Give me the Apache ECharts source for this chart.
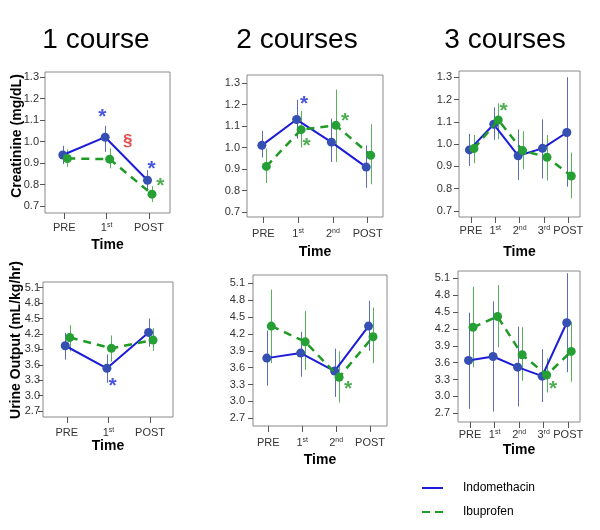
<!DOCTYPE html>
<html><head><meta charset="utf-8">
<script src="https://cdn.jsdelivr.net/npm/echarts@6/dist/echarts.min.js"></script>
<style>html,body{margin:0;padding:0;background:#fff}#c{width:600px;height:530px}</style>
</head><body><div id="c"></div>
<script>
// ---------- data ----------
const panelTitles = ['1 course', '2 courses', '3 courses'];
const yTitles = ['Creatinine (mg/dL)', 'Urine Output (mL/kg/hr)'];
const seriesNames = ['Indomethacin', 'Ibuprofen'];
const xName = 'Time';
const cats1 = ['PRE', '1st', 'POST'];
const cats2 = ['PRE', '1st', '2nd', 'POST'];
const cats3 = ['PRE', '1st', '2nd', '3rd', 'POST'];
const creatTicks = ['0.7', '0.8', '0.9', '1.0', '1.1', '1.2', '1.3'];
const urineTicks = ['2.7', '3.0', '3.3', '3.6', '3.9', '4.2', '4.5', '4.8', '5.1'];

// Creatinine – 1 course
const cr1Indo = [0.937, 1.020, 0.820];
const cr1IndoLo = [0.895, 0.952, 0.770];
const cr1IndoHi = [0.980, 1.073, 0.867];
const cr1Ibu = [0.921, 0.918, 0.755];
const cr1IbuLo = [0.882, 0.875, 0.719];
const cr1IbuHi = [0.963, 0.968, 0.792];
// Creatinine – 2 courses
const cr2Indo = [1.010, 1.130, 1.025, 0.909];
const cr2IndoLo = [0.953, 1.041, 0.933, 0.813];
const cr2IndoHi = [1.077, 1.222, 1.134, 1.010];
const cr2Ibu = [0.912, 1.083, 1.103, 0.964];
const cr2IbuLo = [0.835, 1.000, 0.933, 0.829];
const cr2IbuHi = [0.995, 1.170, 1.269, 1.108];
// Creatinine – 3 courses
const cr3Indo = [0.974, 1.089, 0.948, 0.981, 1.052];
const cr3IndoLo = [0.902, 1.019, 0.839, 0.846, 0.809];
const cr3IndoHi = [1.046, 1.165, 1.066, 1.111, 1.300];
const cr3Ibu = [0.980, 1.108, 0.971, 0.941, 0.857];
const cr3IbuLo = [0.914, 1.022, 0.887, 0.836, 0.757];
const cr3IbuHi = [1.041, 1.183, 1.058, 1.041, 0.962];
// Urine output – 1 course
const ur1Indo = [3.97, 3.53, 4.23];
const ur1IndoLo = [3.70, 3.25, 3.95];
const ur1IndoHi = [4.22, 3.80, 4.50];
const ur1Ibu = [4.13, 3.92, 4.08];
const ur1IbuLo = [3.86, 3.66, 3.87];
const ur1IbuHi = [4.37, 4.17, 4.31];
// Urine output – 2 courses
const ur2Indo = [3.77, 3.86, 3.54, 4.34];
const ur2IndoLo = [3.28, 3.44, 3.08, 3.90];
const ur2IndoHi = [4.26, 4.24, 3.94, 4.79];
const ur2Ibu = [4.34, 4.06, 3.43, 4.15];
const ur2IbuLo = [3.68, 3.56, 2.98, 3.68];
const ur2IbuHi = [4.99, 4.61, 3.89, 4.67];
// Urine output – 3 courses
const ur3Indo = [3.64, 3.71, 3.52, 3.36, 4.31];
const ur3IndoLo = [2.78, 2.73, 2.82, 2.90, 3.43];
const ur3IndoHi = [4.49, 4.69, 4.24, 3.84, 5.19];
const ur3Ibu = [4.23, 4.42, 3.74, 3.38, 3.80];
const ur3IbuLo = [3.52, 3.87, 3.28, 3.07, 3.26];
const ur3IbuHi = [4.95, 4.98, 4.23, 3.68, 4.33];

// significance marks: [x (category index), y value, symbol, group]
const cr1Notes = [[0.9, 1.13, '*', 'indo'], [1.5, 1.0, '§', 'sig'], [2.06, 0.89, '*', 'indo'], [2.27, 0.81, '*', 'ibu']];
const cr2Notes = [[1.17, 1.22, '*', 'indo'], [1.24, 1.026, '*', 'ibu'], [2.35, 1.142, '*', 'ibu']];
const cr3Notes = [[1.34, 1.165, '*', 'ibu']];
const ur1Notes = [[1.1, 3.26, '*', 'indo']];
const ur2Notes = [[2.35, 3.28, '*', 'ibu']];
const ur3Notes = [[3.38, 3.20, '*', 'ibu']];

// ---------- layout / style ----------
const C = {
  indoLine: '#1c1cd8', indoDot: '#3550b2', indoErr: '#5d6cb8',
  ibuLine: '#1f9a24', ibuDot: '#26a035', ibuErr: '#58b25a',
  sig: '#e0201c', frame: '#8a8a8a', tick: '#555', label: '#333'
};
const FONT = 'Liberation Sans, Arial, sans-serif';

const panels = [
  { cats: cats1, ticks: creatTicks, indo: [cr1Indo, cr1IndoLo, cr1IndoHi], ibu: [cr1Ibu, cr1IbuLo, cr1IbuHi], notes: cr1Notes,
    box: { left: 45, top: 72, width: 125, height: 141 }, xr: [-0.456, 2.496], yr: [0.6674, 1.3233], lm: 9, ng: 25, ym: 6 },
  { cats: cats2, ticks: creatTicks, indo: [cr2Indo, cr2IndoLo, cr2IndoHi], ibu: [cr2Ibu, cr2IbuLo, cr2IbuHi], notes: cr2Notes,
    box: { left: 247, top: 75, width: 136, height: 142 }, xr: [-0.47, 3.44], yr: [0.677, 1.337], lm: 11, ng: 28, ym: 7 },
  { cats: cats3, ticks: creatTicks, indo: [cr3Indo, cr3IndoLo, cr3IndoHi], ibu: [cr3Ibu, cr3IbuLo, cr3IbuHi], notes: cr3Notes,
    box: { left: 459, top: 71, width: 121, height: 146 }, xr: [-0.49, 4.48], yr: [0.673, 1.328], lm: 8, ng: 28, ym: 7 },
  { cats: cats1, ticks: urineTicks, indo: [ur1Indo, ur1IndoLo, ur1IndoHi], ibu: [ur1Ibu, ur1IbuLo, ur1IbuHi], notes: ur1Notes,
    box: { left: 43, top: 282, width: 130, height: 135 }, xr: [-0.57, 2.55], yr: [2.583, 5.211], lm: 10, ng: 19, ym: 3 },
  { cats: cats2, ticks: urineTicks, indo: [ur2Indo, ur2IndoLo, ur2IndoHi], ibu: [ur2Ibu, ur2IbuLo, ur2IbuHi], notes: ur2Notes,
    box: { left: 253, top: 275, width: 134, height: 151 }, xr: [-0.45, 3.5], yr: [2.563, 5.248], lm: 11, ng: 27, ym: 8 },
  { cats: cats3, ticks: urineTicks, indo: [ur3Indo, ur3IndoLo, ur3IndoHi], ibu: [ur3Ibu, ur3IbuLo, ur3IbuHi], notes: ur3Notes,
    box: { left: 458, top: 271, width: 122, height: 151 }, xr: [-0.49, 4.48], yr: [2.545, 5.23], lm: 7, ng: 21, ym: 8 }
];

function catLabel(s) {
  const m = s.match(/^(\d+)(st|nd|rd|th)$/);
  return m ? '{n|' + m[1] + '}{s|' + m[2] + '}' : '{n|' + s + '}';
}

const grids = [], xAxes = [], yAxes = [], series = [];

// legend-only series (they alone carry the legend names)
series.push({ type: 'line', name: seriesNames[0], xAxisIndex: 0, yAxisIndex: 0, data: [], symbol: 'none',
  lineStyle: { color: C.indoLine, width: 2 }, itemStyle: { color: C.indoLine } });
series.push({ type: 'line', name: seriesNames[1], xAxisIndex: 0, yAxisIndex: 0, data: [], symbol: 'none',
  lineStyle: { color: C.ibuLine, width: 2.5, type: [6, 5] }, itemStyle: { color: C.ibuLine } });

function errSeries(i, xs, lo, hi, color) {
  return {
    type: 'custom', name: 'err' + i, xAxisIndex: i, yAxisIndex: i, silent: true, z: 1,
    data: xs.map((x, k) => [x, lo[k], hi[k]]),
    encode: { x: 0, y: [1, 2] },
    renderItem: function (params, api) {
      const a = api.coord([api.value(0), api.value(1)]);
      const b = api.coord([api.value(0), api.value(2)]);
      return { type: 'line', shape: { x1: Math.round(a[0]) + 0.5, y1: a[1], x2: Math.round(b[0]) + 0.5, y2: b[1] },
        style: { stroke: color, lineWidth: 1 } };
    }
  };
}

panels.forEach((p, i) => {
  grids.push(Object.assign({ show: true, borderColor: C.frame, borderWidth: 1, backgroundColor: 'transparent',
    containLabel: false, outerBoundsMode: 'none' }, p.box));
  const idx = p.cats.map((_, k) => k);
  const tv = p.ticks.map(Number);
  xAxes.push({
    gridIndex: i, type: 'value', min: p.xr[0], max: p.xr[1], position: 'bottom',
    axisLine: { show: false, onZero: false }, splitLine: { show: false },
    axisTick: { show: true, customValues: idx, length: 6, lineStyle: { color: C.tick } },
    axisLabel: { customValues: idx, margin: p.lm, formatter: v => catLabel(p.cats[Math.round(v)]),
      rich: { n: { fontSize: 11, color: C.label, fontFamily: FONT, lineHeight: 12 },
              s: { fontSize: 7, color: C.label, fontFamily: FONT, verticalAlign: 'top', lineHeight: 12 } } },
    name: xName, nameLocation: 'middle', nameGap: p.ng,
    nameTextStyle: { fontWeight: 'bold', fontSize: 14, color: '#000', fontFamily: FONT }
  });
  yAxes.push({
    gridIndex: i, type: 'value', min: p.yr[0], max: p.yr[1], position: 'left',
    axisLine: { show: false, onZero: false }, splitLine: { show: false },
    axisTick: { show: true, customValues: tv, length: 5, lineStyle: { color: C.tick } },
    axisLabel: { customValues: tv, margin: p.ym, formatter: v => v.toFixed(1), fontSize: 11, color: C.label, fontFamily: FONT }
  });
  const unit = p.box.width / (p.xr[1] - p.xr[0]);
  const xb = idx.map(k => k - 1.5 / unit);
  const xg = idx.map(k => k + 3 / unit);
  series.push(errSeries(i, xb, p.indo[1], p.indo[2], C.indoErr));
  series.push(errSeries(i, xg, p.ibu[1], p.ibu[2], C.ibuErr));
  series.push({ type: 'line', name: 'indo' + i, xAxisIndex: i, yAxisIndex: i, z: 3,
    data: xb.map((x, k) => [x, p.indo[0][k]]), symbol: 'circle', symbolSize: 9, showSymbol: true,
    lineStyle: { color: C.indoLine, width: 2 }, itemStyle: { color: C.indoDot } });
  series.push({ type: 'line', name: 'ibu' + i, xAxisIndex: i, yAxisIndex: i, z: 4,
    data: xg.map((x, k) => [x, p.ibu[0][k]]), symbol: 'circle', symbolSize: 9, showSymbol: true,
    lineStyle: { color: C.ibuLine, width: 2.5, type: [8, 6] }, itemStyle: { color: C.ibuDot } });
  series.push({ type: 'scatter', name: 'sig' + i, xAxisIndex: i, yAxisIndex: i, z: 5, silent: true,
    symbolSize: 0,
    data: p.notes.map(n => ({ value: [n[0], n[1]], label: {
      formatter: n[2],
      color: n[3] === 'indo' ? '#1a2ad6' : (n[3] === 'ibu' ? '#1f9a24' : C.sig),
      fontSize: n[2] === '*' ? 21 : 17,
      offset: n[2] === '*' ? [0, 4] : [0, 0]
    } })),
    label: { show: true, position: 'inside', fontWeight: 'bold', fontFamily: FONT } });
});

const graphics = [];
const titleX = [96, 297, 505];
panelTitles.forEach((t, k) => graphics.push({ type: 'text', x: titleX[k], y: 40,
  style: { text: t, fontSize: 28, fontFamily: FONT, fill: '#000', textAlign: 'center', textVerticalAlign: 'middle' } }));
const yTitlePos = [[17.5, 136], [16, 340]];
yTitles.forEach((t, k) => graphics.push({ type: 'text', x: yTitlePos[k][0], y: yTitlePos[k][1], rotation: Math.PI / 2,
  style: { text: t, fontSize: 14, fontWeight: 'bold', fontFamily: FONT, fill: '#000', textAlign: 'center', textVerticalAlign: 'middle' } }));

const chart = echarts.init(document.getElementById('c'), null, { renderer: 'canvas' });
chart.setOption({
  animation: false,
  backgroundColor: '#fff',
  textStyle: { fontFamily: FONT },
  grid: grids, xAxis: xAxes, yAxis: yAxes, series: series,
  legend: {
    data: [
      { name: seriesNames[0], icon: 'path://M0,0h21v2h-21z' },
      { name: seriesNames[1], icon: 'path://M0,0h8v2h-8z M13,0h8v2h-8z' }
    ],
    orient: 'vertical', left: 417, top: 477, itemWidth: 21, itemHeight: 2, itemGap: 12,
    textStyle: { fontSize: 12, color: '#000', fontFamily: FONT, padding: [0, 0, 0, 15] }, selectedMode: false
  },
  graphic: graphics
});
</script></body></html>
